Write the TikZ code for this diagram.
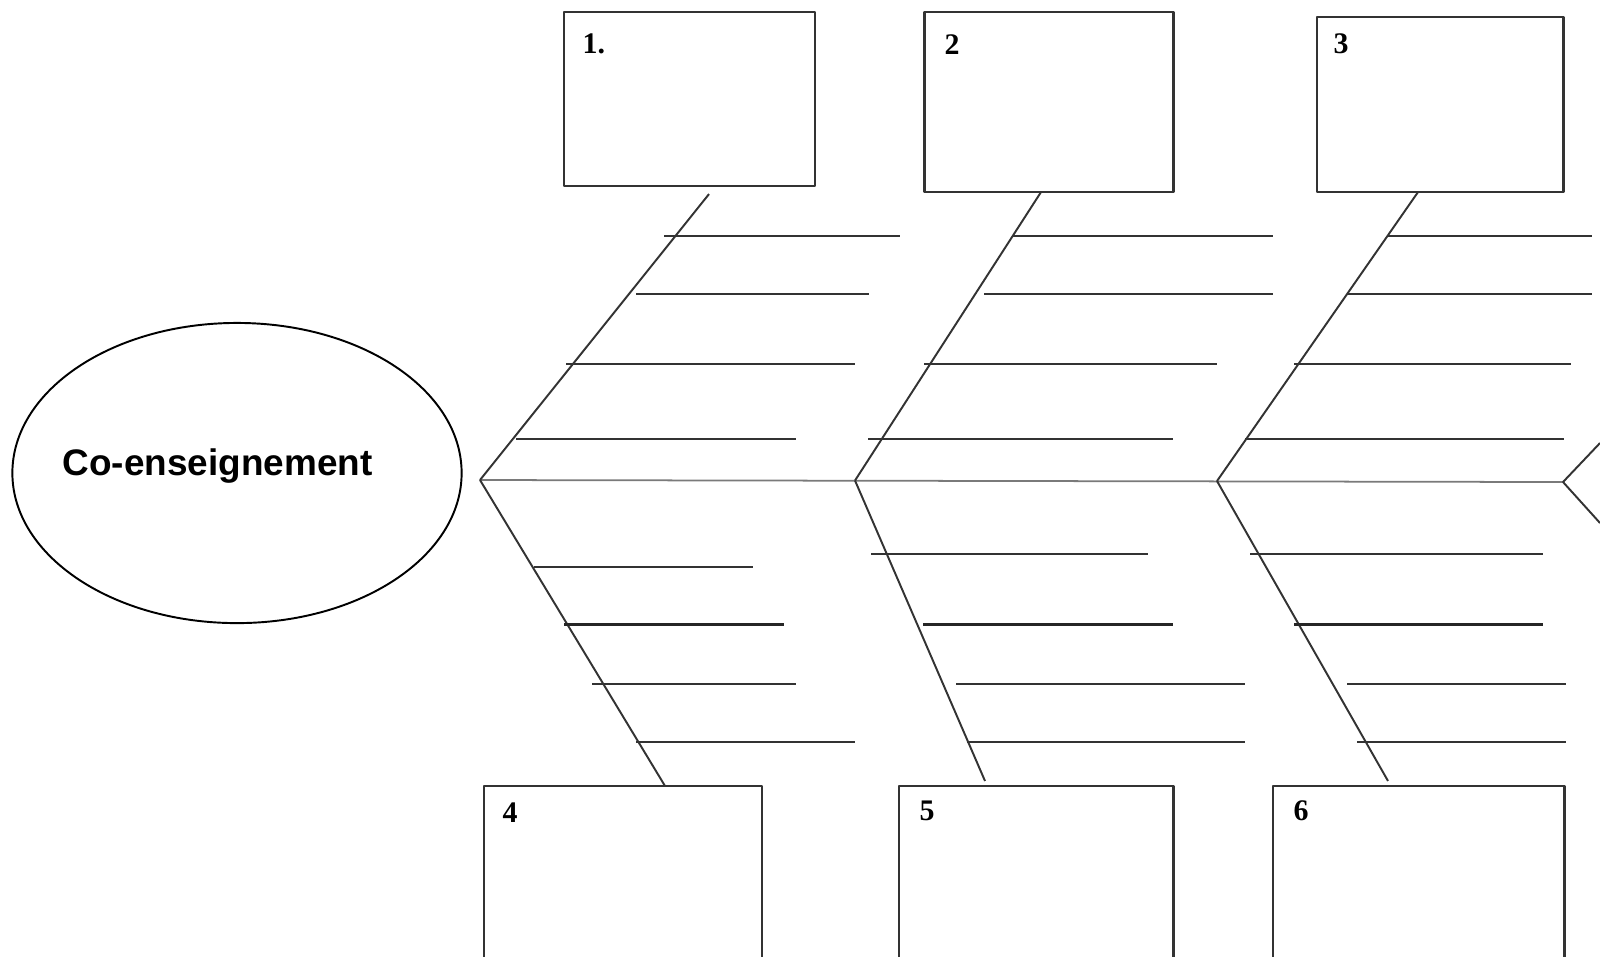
\documentclass[tikz,border=0pt]{standalone}
\usepackage{fontspec}
\setmainfont{Liberation Serif}
\setsansfont{Liberation Sans}
\usetikzlibrary{shapes.geometric}
\definecolor{cline}{HTML}{333333}
\definecolor{cspine}{HTML}{7A7A7A}
\tikzset{
  every picture/.style={line join=round},
  catbox/.style={draw=cline, line width=0.8pt, fill=white, inner sep=0pt, outer sep=0pt},
  num/.style={font=\fontsize{8.5}{10}\selectfont\bfseries, inner sep=0pt, anchor=north west},
  bone/.style={draw=cline, line width=0.55pt},
  rib/.style={draw=cline, line width=0.5pt},
  thickrib/.style={draw=black!85, line width=0.95pt},
}

\begin{document}
\begin{tikzpicture}[x=0.01cm, y=-0.01cm]
  \useasboundingbox (0,0) rectangle (1600,956);
  % effect
  \node[draw, ellipse, line width=0.55pt, minimum width=4.49cm, minimum height=3.0cm, inner sep=0pt] (effect) at (237,473) {};
  \node[font=\sffamily\bfseries\fontsize{10.5}{12}\selectfont, anchor=base, inner sep=0pt] (efftxt) at (217.5,475) {Co-enseignement};
  % spine
  \coordinate (j1) at (480,480);
  \coordinate (j2) at (855,480.5);
  \coordinate (j3) at (1217,481);
  \coordinate (head) at (1563,482);
  \coordinate (tailup) at (1600,443);
  \coordinate (taildn) at (1600,523);
  \draw[draw=cspine, line width=0.5pt] (j1) -- (head);
  \draw[bone] (tailup) -- (head) -- (taildn);
  % category boxes
  \node[catbox, minimum width=2.51cm, minimum height=1.74cm] (b1) at (689.5,99) {};
  \node[catbox, minimum width=2.49cm, minimum height=1.80cm] (b2) at (1049,102) {};
  \node[catbox, minimum width=2.46cm, minimum height=1.75cm] (b3) at (1440,104.5) {};
  \node[catbox, minimum width=2.78cm, minimum height=1.94cm] (b4) at (623,883) {};
  \node[catbox, minimum width=2.74cm, minimum height=1.94cm] (b5) at (1036,883) {};
  \node[catbox, minimum width=2.91cm, minimum height=1.94cm] (b6) at (1418.5,883) {};
  \node[num] (n1) at ([shift={(18,21)}]b1.north west) {1.};
  \node[num] (n2) at ([shift={(19.5,22)}]b2.north west) {2};
  \node[num] (n3) at ([shift={(16,16)}]b3.north west) {3};
  \node[num] (n4) at ([shift={(18,16)}]b4.north west) {4};
  \node[num] (n5) at ([shift={(20,14)}]b5.north west) {5};
  \node[num] (n6) at ([shift={(20,14)}]b6.north west) {6};
  % bones
  \draw[bone] (j1) -- ([shift={(19.5,8)}]b1.south);
  \draw[bone] (j2) -- ([shift={(-8,0)}]b2.south);
  \draw[bone] (j3) -- ([shift={(-22,0)}]b3.south);
  \draw[bone] (j1) -- ([shift={(42,0)}]b4.north);
  \draw[bone] (j2) -- ([shift={(-51,-5)}]b5.north);
  \draw[bone] (j3) -- ([shift={(-30.5,-5)}]b6.north);
  % ribs
  \foreach \y/\a/\b in {236/664/900, 294/636/869, 364/566/855, 439/516/796,
      236/1013/1273, 294/984/1273, 364/924/1217, 439/868/1173,
      236/1388/1592, 294/1347/1592, 364/1294/1571, 439/1245/1564,
      567/534/753, 684/592/796, 742/636/855,
      554/871/1148, 684/956/1245, 742/967/1245,
      554/1250/1543, 684/1347/1566, 742/1357/1566}
    \draw[rib] (\a,\y) -- (\b,\y);
  \foreach \a/\b in {564/784, 923/1173, 1294/1543}
    \draw[thickrib] (\a,624.5) -- (\b,624.5);
\end{tikzpicture}
\end{document}
